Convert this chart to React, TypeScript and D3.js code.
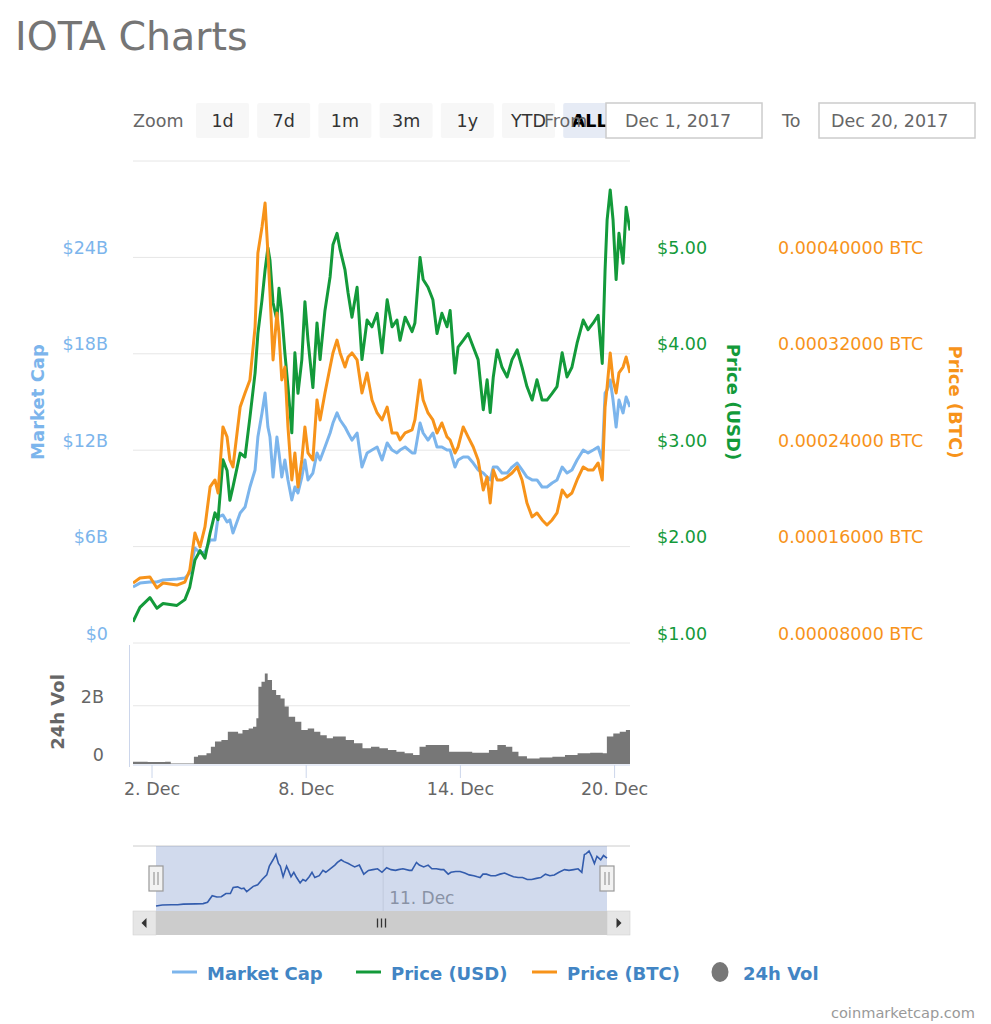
import * as d3 from "d3";

// time axis: day of December 2017 (fractional), shared by the three line series
const DAYS = [
  1.26, 1.53, 1.92, 2.19, 2.43, 2.97, 3.28, 3.47,
  3.67, 3.87, 4.06, 4.26, 4.45, 4.57, 4.76, 4.92,
  5.03, 5.15, 5.43, 5.62, 5.81, 6.01, 6.12, 6.28,
  6.4, 6.51, 6.59, 6.71, 6.86, 6.94, 7.05, 7.17,
  7.29, 7.44, 7.56, 7.68, 7.83, 7.95, 8.07, 8.26,
  8.42, 8.54, 8.73, 8.93, 9.04, 9.2, 9.32, 9.51,
  9.63, 9.78, 9.98, 10.17, 10.37, 10.56, 10.76, 10.95,
  11.15, 11.34, 11.53, 11.65, 11.85, 12.12, 12.23, 12.43,
  12.55, 12.74, 12.93, 13.09, 13.28, 13.48, 13.6, 13.79,
  13.91, 14.11, 14.3, 14.5, 14.69, 14.89, 15.04, 15.16,
  15.28, 15.43, 15.62, 15.82, 16.01, 16.21, 16.4, 16.59,
  16.79, 16.98, 17.18, 17.37, 17.57, 17.76, 17.96, 18.15,
  18.34, 18.54, 18.78, 18.97, 19.17, 19.36, 19.52, 19.63,
  19.71, 19.83, 19.94, 20.06, 20.17, 20.33, 20.45, 20.6,
];

// market cap, billions USD
const MCAP_B = [
  3.49, 3.73, 3.8, 3.8, 3.92, 3.98, 4.05, 4.36,
  5.91, 5.6, 5.66, 6.41, 6.41, 7.84, 7.97, 7.53,
  7.66, 6.85, 8.09, 8.46, 9.71, 10.77, 12.82, 14.32,
  15.56, 13.44, 12.82, 10.33, 12.82, 11.83, 10.33, 11.39,
  10.15, 8.9, 9.71, 9.34, 10.33, 11.39, 10.15, 10.58,
  11.83, 11.39, 12.2, 13.07, 13.69, 14.32, 13.88, 13.44,
  13.07, 12.63, 13.07, 10.95, 11.83, 12.01, 12.2, 11.39,
  12.45, 12.01, 11.83, 12.01, 12.2, 11.83, 11.83, 13.69,
  13.07, 12.63, 13.07, 12.2, 12.2, 12.01, 12.01, 10.95,
  11.39, 11.58, 11.58, 11.2, 10.77, 10.58, 10.33, 10.15,
  10.95, 10.95, 10.58, 10.58, 10.95, 11.2, 10.77, 10.33,
  10.15, 10.15, 9.71, 9.71, 9.96, 10.15, 10.95, 10.58,
  10.77, 11.39, 12.01, 11.83, 12.01, 12.2, 11.39, 15.56,
  15.75, 16.37, 15.12, 13.44, 15.12, 14.32, 15.31, 14.69,
];

const PRICE_USD = [
  1.22, 1.37, 1.47, 1.36, 1.41, 1.39, 1.45, 1.58,
  1.86, 1.96, 1.88, 2.14, 2.35, 2.28, 2.9, 2.79,
  2.48, 2.62, 2.97, 2.93, 3.34, 3.8, 4.21, 4.56,
  4.87, 5.1, 4.97, 4.53, 4.35, 4.68, 4.42, 4.01,
  3.66, 3.18, 4.01, 3.59, 3.94, 4.54, 4.14, 3.65,
  4.32, 3.94, 4.45, 4.8, 5.13, 5.25, 5.08, 4.87,
  4.63, 4.38, 4.69, 3.94, 4.35, 4.28, 4.42, 4.01,
  4.56, 4.28, 4.35, 4.14, 4.38, 4.23, 4.32, 5.0,
  4.77, 4.69, 4.56, 4.21, 4.42, 4.28, 4.45, 3.8,
  4.07, 4.14, 4.21, 4.07, 3.94, 3.42, 3.73, 3.39,
  3.76, 4.04, 3.86, 3.76, 3.94, 4.04, 3.86, 3.66,
  3.52, 3.73, 3.52, 3.52, 3.59, 3.66, 4.01, 3.76,
  3.86, 4.11, 4.35, 4.25, 4.32, 4.4, 3.9, 4.87,
  5.39, 5.7, 5.39, 4.77, 5.25, 4.94, 5.52, 5.28,
];

const PRICE_BTC = [
  0.0001298, 0.0001339, 0.0001348, 0.0001257, 0.0001298, 0.0001281, 0.0001306, 0.0001406,
  0.0001713, 0.0001597, 0.0001763, 0.0002095, 0.0002153, 0.0002045, 0.0002593, 0.000251,
  0.0002319, 0.0002261, 0.0002758, 0.0002875, 0.0002983, 0.0003422, 0.0004037, 0.0004252,
  0.0004451, 0.0004037, 0.0003705, 0.0003149, 0.0003539, 0.0003373, 0.0002983, 0.000309,
  0.0002593, 0.0002153, 0.0002377, 0.0002095, 0.0002319, 0.0002593, 0.0002377, 0.0002319,
  0.0002817, 0.0002651, 0.0002875, 0.000309, 0.0003207, 0.0003314, 0.0003207, 0.000309,
  0.0003173, 0.0003207, 0.0003149, 0.0002875, 0.0003041, 0.0002817, 0.0002709, 0.0002651,
  0.0002758, 0.0002543, 0.0002543, 0.0002485, 0.0002543, 0.0002568, 0.0002651, 0.0002983,
  0.0002817, 0.0002709, 0.0002651, 0.0002543, 0.0002626, 0.000251, 0.0002485, 0.0002377,
  0.0002427, 0.0002593, 0.000251, 0.0002427, 0.0002319, 0.000207, 0.0002178, 0.0001962,
  0.0002236, 0.0002153, 0.0002153, 0.0002178, 0.0002211, 0.0002261, 0.0002153, 0.0001962,
  0.0001846, 0.0001879, 0.0001821, 0.0001779, 0.0001821, 0.0001879, 0.000207, 0.0002012,
  0.0002045, 0.0002153, 0.0002261, 0.0002236, 0.0002236, 0.0002294, 0.0002153, 0.0002758,
  0.0002925, 0.0003207, 0.0002983, 0.0002875, 0.0003041, 0.000309, 0.0003173, 0.0003041,
];

// 24h volume, billions USD
const VOL_DAYS = [
  1.26, 1.83, 2.51, 2.73, 3.63, 3.79, 4.12, 4.29, 4.45, 4.7, 4.95, 5.35,
  5.52, 5.76, 5.93, 6.06, 6.14, 6.26, 6.39, 6.5, 6.67, 6.83, 7.0, 7.16,
  7.32, 7.57, 7.81, 8.06, 8.31, 8.55, 8.8, 9.04, 9.29, 9.54, 9.86, 10.19,
  10.52, 10.85, 11.18, 11.51, 11.83, 12.16, 12.41, 12.65, 12.98, 13.31, 13.56, 13.8,
  14.13, 14.46, 14.79, 15.11, 15.44, 15.77, 16.02, 16.26, 16.59, 17.08, 17.58, 18.07,
  18.56, 19.05, 19.54, 19.7, 19.95, 20.2, 20.44, 20.6,
];
const VOL_B = [
  0.08, 0.07, 0.08, 0.02, 0.25, 0.3, 0.37, 0.59, 0.77, 0.82, 1.11, 1.05,
  1.17, 1.22, 1.28, 1.57, 2.65, 2.82, 3.11, 2.88, 2.54, 2.37, 2.25, 1.97,
  1.62, 1.45, 1.17, 1.22, 1.11, 0.99, 0.88, 0.94, 0.94, 0.82, 0.71, 0.54,
  0.59, 0.54, 0.48, 0.42, 0.37, 0.31, 0.59, 0.65, 0.65, 0.65, 0.42, 0.42,
  0.42, 0.39, 0.39, 0.48, 0.65, 0.59, 0.42, 0.27, 0.19, 0.22, 0.25, 0.31,
  0.37, 0.39, 0.37, 0.94, 1.05, 1.11, 1.17, 1.28,
];

const X_TICK_DAYS = [2, 8, 14, 20];
const NAV_TICK_DAYS = [11];
const MCAP_TICKS = [0, 6, 12, 18, 24, 30];
const USD_TICKS = [1, 2, 3, 4, 5];
const BTC_TICKS = [0.00008, 0.00016, 0.00024, 0.00032, 0.0004];
const VOL_TICKS = [0, 2];
const ZOOM_BUTTONS = ["1d", "7d", "1m", "3m", "1y", "YTD", "ALL"];
const SELECTED_BUTTON = "ALL";
const RANGE_FROM = "Dec 1, 2017";
const RANGE_TO = "Dec 20, 2017";

const C_MCAP = "#7cb5ec";
const C_USD = "#139a3a";
const C_BTC = "#f7931a";
const C_VOL = "#777777";
const FONT = "'DejaVu Sans', sans-serif";

const LEGEND = [
  { name: "Market Cap", color: C_MCAP, kind: "line", x: 172 },
  { name: "Price (USD)", color: C_USD, kind: "line", x: 356 },
  { name: "Price (BTC)", color: C_BTC, kind: "line", x: 532 },
  { name: "24h Vol", color: C_VOL, kind: "dot", x: 711 },
];

const toDate = (d: number) => new Date(Date.UTC(2017, 11, 1) + (d - 1) * 864e5);

export default function App() {
  const W = 991;
  const H = 1024;
  const plot = { left: 133, right: 630, top: 161, bottom: 643 };
  const volPane = { top: 644, bottom: 764 };
  const nav = { left: 156, right: 607, top: 846, bottom: 911, lineTop: 851, lineBottom: 906 };
  const scroll = { top: 911, bottom: 935 };

  const x = d3
    .scaleUtc()
    .domain([toDate(DAYS[0]), toDate(DAYS[DAYS.length - 1])])
    .range([plot.left, plot.right]);
  const yMcap = d3.scaleLinear().domain([0, 30]).range([plot.bottom, plot.top]);
  const yUsd = d3.scaleLinear().domain([1, 6]).range([plot.bottom, plot.top]);
  const yBtc = d3.scaleLinear().domain([0.00008, 0.00048]).range([plot.bottom, plot.top]);
  const yVol = d3.scaleLinear().domain([0, 4.12]).range([volPane.bottom, volPane.top]);

  const xNav = d3
    .scaleUtc()
    .domain(x.domain())
    .range([nav.left, nav.right]);
  const yNav = d3
    .scaleLinear()
    .domain(d3.extent(MCAP_B) as [number, number])
    .range([nav.lineBottom, nav.lineTop]);

  const mkLine = (vals: number[], y: d3.ScaleLinear<number, number>) =>
    d3
      .line<number>()
      .x((_, i) => x(toDate(DAYS[i])))
      .y((v) => y(v))(vals) || "";

  const volArea =
    d3
      .area<number>()
      .curve(d3.curveStepAfter)
      .x((_, i) => x(toDate(VOL_DAYS[i])))
      .y0(yVol(0))
      .y1((v) => yVol(v))(VOL_B) || "";

  const navLine =
    d3
      .line<number>()
      .x((_, i) => xNav(toDate(DAYS[i])))
      .y((v) => yNav(v))(MCAP_B) || "";

  const fmtDay = d3.utcFormat("%-d. %b");
  const labelSize = 17.5;

  const handle = (cx: number) => (
    <g key={cx}>
      <rect x={cx - 7} y={866} width={14} height={25} fill="#f2f2f2" stroke="#999" strokeWidth={1.2} />
      <line x1={cx - 2} x2={cx - 2} y1={872} y2={885} stroke="#999" strokeWidth={1.2} />
      <line x1={cx + 2} x2={cx + 2} y1={872} y2={885} stroke="#999" strokeWidth={1.2} />
    </g>
  );

  const gripX = (nav.left + nav.right) / 2;
  const scrollMid = (scroll.top + scroll.bottom) / 2;

  return (
    <svg
      width={W}
      height={H}
      style={{ position: "absolute", left: 0, top: 0, background: "#fff" }}
      fontFamily={FONT}
    >
      <text x={15} y={50} fontSize={39.5} fill="#757575">
        IOTA Charts
      </text>

      {/* range selector */}
      <text x={133} y={127} fontSize={labelSize} fill="#666">
        Zoom
      </text>
      {ZOOM_BUTTONS.map((b, i) => {
        const bx = 196 + i * 61.2;
        const sel = b === SELECTED_BUTTON;
        return (
          <g key={b}>
            <rect x={bx} y={103} width={53} height={35} rx={2} fill={sel ? "#e6ebf5" : "#f7f7f7"} />
            <text
              x={bx + 26.5}
              y={127}
              textAnchor="middle"
              fontSize={labelSize}
              fill={sel ? "#000" : "#333"}
              fontWeight={sel ? "bold" : "normal"}
            >
              {b}
            </text>
          </g>
        );
      })}
      <text x={544} y={127} fontSize={labelSize} fill="#666">
        From
      </text>
      <rect x={606} y={103} width={156} height={35} fill="#fff" stroke="#ccc" strokeWidth={1.5} />
      <text x={625} y={127} fontSize={labelSize} fill="#666">
        {RANGE_FROM}
      </text>
      <text x={782} y={127} fontSize={labelSize} fill="#666">
        To
      </text>
      <rect x={819} y={103} width={156} height={35} fill="#fff" stroke="#ccc" strokeWidth={1.5} />
      <text x={831} y={127} fontSize={labelSize} fill="#666">
        {RANGE_TO}
      </text>

      {/* grid */}
      {MCAP_TICKS.map((t) => (
        <line key={t} x1={plot.left} x2={plot.right} y1={yMcap(t)} y2={yMcap(t)} stroke="#e6e6e6" />
      ))}
      <line x1={plot.left} x2={plot.right} y1={yVol(2)} y2={yVol(2)} stroke="#e6e6e6" />

      {/* left axis labels */}
      {MCAP_TICKS.slice(0, -1).map((t) => (
        <text key={t} x={108} y={yMcap(t) - 3.5} textAnchor="end" fontSize={labelSize} fill={C_MCAP}>
          {t === 0 ? "$0" : `$${t}B`}
        </text>
      ))}
      <text
        transform={`translate(37,402) rotate(-90)`}
        textAnchor="middle"
        dominantBaseline="central"
        fontSize={18}
        fontWeight="bold"
        fill={C_MCAP}
      >
        Market Cap
      </text>

      {/* right axes */}
      {USD_TICKS.map((t) => (
        <text key={t} x={657} y={yUsd(t) - 3.5} fontSize={labelSize} fill={C_USD}>
          {`$${t.toFixed(2)}`}
        </text>
      ))}
      <text
        transform={`translate(733,402) rotate(90)`}
        textAnchor="middle"
        dominantBaseline="central"
        fontSize={18}
        fontWeight="bold"
        fill={C_USD}
      >
        Price (USD)
      </text>
      {BTC_TICKS.map((t) => (
        <text key={t} x={778} y={yBtc(t) - 3.5} fontSize={labelSize} fill={C_BTC}>
          {`${t.toFixed(8)} BTC`}
        </text>
      ))}
      <text
        transform={`translate(955,402) rotate(90)`}
        textAnchor="middle"
        dominantBaseline="central"
        fontSize={18}
        fontWeight="bold"
        fill={C_BTC}
      >
        Price (BTC)
      </text>

      {/* volume axis */}
      {VOL_TICKS.map((t) => (
        <text key={t} x={104} y={yVol(t) - 3} textAnchor="end" fontSize={labelSize} fill="#666">
          {t === 0 ? "0" : `${t}B`}
        </text>
      ))}
      <text
        transform={`translate(57,712) rotate(-90)`}
        textAnchor="middle"
        dominantBaseline="central"
        fontSize={18}
        fontWeight="bold"
        fill="#666"
      >
        24h Vol
      </text>
      <line x1={129.5} x2={129.5} y1={645} y2={767} stroke="#ccd6eb" />

      <defs>
        <clipPath id="plotClip">
          <rect x={plot.left} y={plot.top - 40} width={plot.right - plot.left} height={volPane.bottom - plot.top + 40} />
        </clipPath>
      </defs>

      {/* series */}
      <g clipPath="url(#plotClip)">
        <path d={volArea} fill={C_VOL} />
        <path d={mkLine(MCAP_B, yMcap)} fill="none" stroke={C_MCAP} strokeWidth={3} strokeLinejoin="round" />
        <path d={mkLine(PRICE_USD, yUsd)} fill="none" stroke={C_USD} strokeWidth={3} strokeLinejoin="round" />
        <path d={mkLine(PRICE_BTC, yBtc)} fill="none" stroke={C_BTC} strokeWidth={3} strokeLinejoin="round" />
      </g>

      {/* x axis */}
      <line x1={plot.left} x2={plot.right} y1={765} y2={765} stroke="#ccd6eb" />
      {X_TICK_DAYS.map((d) => {
        const tx = x(toDate(d));
        return (
          <g key={d}>
            <line x1={tx} x2={tx} y1={765} y2={778} stroke="#ccd6eb" />
            <text x={tx} y={795} textAnchor="middle" fontSize={labelSize} fill="#666">
              {fmtDay(toDate(d))}
            </text>
          </g>
        );
      })}

      {/* navigator */}
      <line x1={plot.left} x2={plot.right} y1={nav.top} y2={nav.top} stroke="#ccc" />
      {NAV_TICK_DAYS.map((d) => {
        const tx = xNav(toDate(d));
        return (
          <g key={d}>
            <line x1={tx} x2={tx} y1={nav.top} y2={nav.bottom} stroke="#e6e6e6" />
            <text x={tx + 6} y={904} fontSize={17} fill="#999">
              {fmtDay(toDate(d))}
            </text>
          </g>
        );
      })}
      <rect
        x={nav.left}
        y={nav.top}
        width={nav.right - nav.left}
        height={nav.bottom - nav.top}
        fill="rgba(102,133,194,0.3)"
      />
      <path d={navLine} fill="none" stroke="#335cad" strokeWidth={1.6} />
      {handle(nav.left)}
      {handle(nav.right)}

      {/* scrollbar */}
      <rect x={plot.left} y={scroll.top} width={plot.right - plot.left} height={scroll.bottom - scroll.top} fill="#f2f2f2" />
      <rect x={nav.left} y={scroll.top} width={nav.right - nav.left} height={scroll.bottom - scroll.top} fill="#cccccc" />
      <rect x={plot.left} y={scroll.top} width={nav.left - plot.left} height={scroll.bottom - scroll.top} fill="#e6e6e6" stroke="#ccc" strokeWidth={0.5} />
      <rect x={nav.right} y={scroll.top} width={plot.right - nav.right} height={scroll.bottom - scroll.top} fill="#e6e6e6" stroke="#ccc" strokeWidth={0.5} />
      <path
        d={`M${(plot.left + nav.left) / 2 - 3},${scrollMid} L${(plot.left + nav.left) / 2 + 2},${scrollMid - 5} L${(plot.left + nav.left) / 2 + 2},${scrollMid + 5} Z`}
        fill="#333"
      />
      <path
        d={`M${(plot.right + nav.right) / 2 + 3},${scrollMid} L${(plot.right + nav.right) / 2 - 2},${scrollMid - 5} L${(plot.right + nav.right) / 2 - 2},${scrollMid + 5} Z`}
        fill="#333"
      />
      {[-4, 0, 4].map((o) => (
        <line key={o} x1={gripX + o} x2={gripX + o} y1={scrollMid - 4.5} y2={scrollMid + 4.5} stroke="#333" strokeWidth={1.3} />
      ))}

      {/* legend */}
      {LEGEND.map((l) => (
        <g key={l.name}>
          {l.kind === "line" ? (
            <line x1={l.x} x2={l.x + 25} y1={972} y2={972} stroke={l.color} strokeWidth={3} />
          ) : (
            <ellipse cx={l.x + 9} cy={972} rx={8.5} ry={10} fill={l.color} />
          )}
          <text x={l.x + (l.kind === "line" ? 35 : 32)} y={979.5} fontSize={18} fontWeight="bold" fill="#4285c4">
            {l.name}
          </text>
        </g>
      ))}

      <text x={975} y={1018} textAnchor="end" fontSize={14.6} fill="#999">
        coinmarketcap.com
      </text>
    </svg>
  );
}
